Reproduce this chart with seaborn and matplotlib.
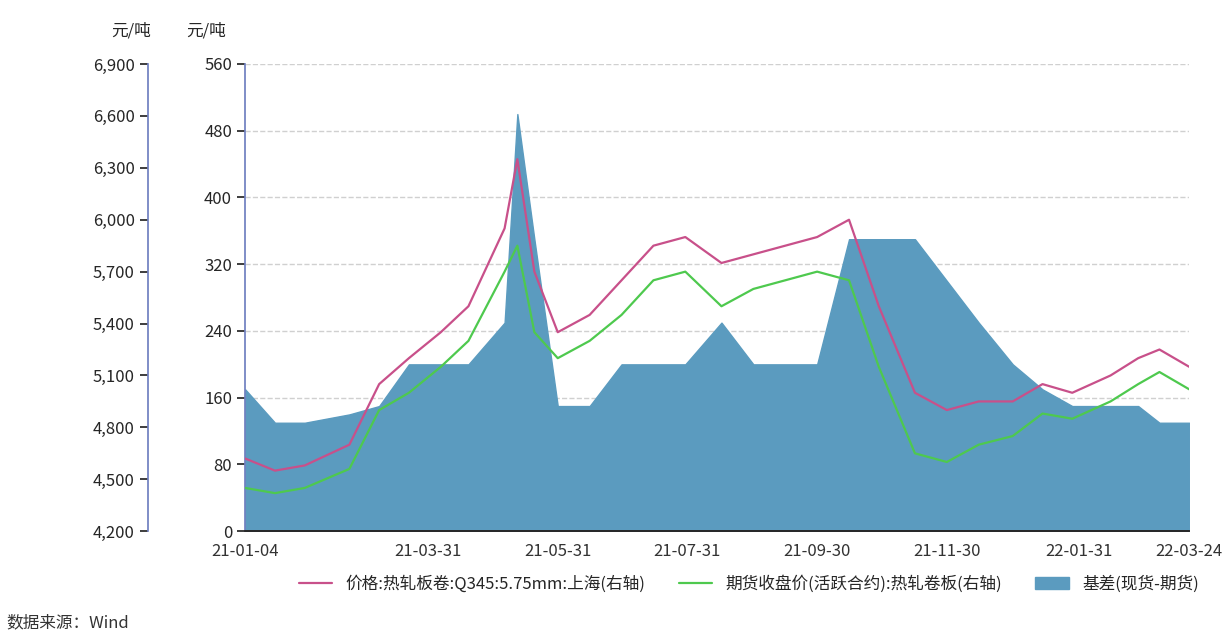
import pandas as pd
import numpy as np
import seaborn as sns
import matplotlib.pyplot as plt
import matplotlib.dates as mdates

sns.set_theme(style="white")
plt.rcParams['font.family'] = ['Noto Sans CJK SC', 'DejaVu Sans']

dates = ["2021-01-04", "2021-01-18", "2021-02-01", "2021-02-22", "2021-03-08", "2021-03-22",
         "2021-04-06", "2021-04-19", "2021-05-06", "2021-05-12", "2021-05-20", "2021-05-31",
         "2021-06-15", "2021-06-30", "2021-07-15", "2021-07-30", "2021-08-16", "2021-08-31",
         "2021-09-15", "2021-09-30", "2021-10-15", "2021-10-29", "2021-11-15", "2021-11-30",
         "2021-12-15", "2021-12-31", "2022-01-14", "2022-01-28", "2022-02-15", "2022-02-28",
         "2022-03-10", "2022-03-24"]
spot = [4620, 4550, 4580, 4700, 5050, 5200, 5350, 5500, 5950, 6350, 5700, 5350,
        5450, 5650, 5850, 5900, 5750, 5800, 5850, 5900, 6000, 5500, 5000, 4900,
        4950, 4950, 5050, 5000, 5100, 5200, 5250, 5150]
futures = [4450, 4420, 4450, 4560, 4900, 5000, 5150, 5300, 5700, 5850, 5350, 5200,
           5300, 5450, 5650, 5700, 5500, 5600, 5650, 5700, 5650, 5150, 4650, 4600,
           4700, 4750, 4880, 4850, 4950, 5050, 5120, 5020]
basis = [170, 130, 130, 140, 150, 200, 200, 200, 250, 500, 350, 150,
         150, 200, 200, 200, 250, 200, 200, 200, 350, 350, 350, 300,
         250, 200, 170, 150, 150, 150, 130, 130]

df = pd.DataFrame({"date": pd.to_datetime(dates), "spot": spot,
                   "futures": futures, "basis": basis})

fig, ax = plt.subplots(figsize=(12.26, 6.4), dpi=100)
fig.subplots_adjust(left=0.2, right=0.97, top=0.9, bottom=0.17)

ax.fill_between(df["date"], 0, df["basis"], color="#5b9bbf", label="基差(现货-期货)")
ax.set_ylim(0, 560)
ax.set_yticks(range(0, 561, 80))
ax.yaxis.grid(True, linestyle="--", color="#d0d0d0")
ax.set_ylabel("")
ax.text(-0.02, 1.06, "元/吨", transform=ax.transAxes, ha="right", fontsize=12)

ax2 = ax.twinx()
sns.lineplot(data=df, x="date", y="spot", ax=ax2, color="#c8508a", linewidth=1.6,
             label="价格:热轧板卷:Q345:5.75mm:上海(右轴)")
sns.lineplot(data=df, x="date", y="futures", ax=ax2, color="#4ec94e", linewidth=1.6,
             label="期货收盘价(活跃合约):热轧卷板(右轴)")
ax2.set_ylim(4200, 6900)
ax2.set_yticks(range(4200, 6901, 300))
ax2.yaxis.set_major_formatter(plt.FuncFormatter(lambda v, p: f"{int(v):,}"))
ax2.yaxis.tick_left()
ax2.yaxis.set_label_position("left")
ax2.spines["left"].set_position(("outward", 70))
ax2.spines["left"].set_color("#7080c0")
ax2.set_ylabel("")
ax2.set_xlabel("")
ax2.text(-0.1, 1.06, "元/吨", transform=ax.transAxes, ha="right", fontsize=12)
for s in ["top", "right"]:
    ax.spines[s].set_visible(False)
    ax2.spines[s].set_visible(False)
ax.spines["left"].set_color("#7080c0")
ax.spines["bottom"].set_color("#333333")

ticks = pd.to_datetime(["2021-01-04", "2021-03-31", "2021-05-31", "2021-07-31",
                        "2021-09-30", "2021-11-30", "2022-01-31", "2022-03-24"])
ax.set_xticks(ticks)
ax.xaxis.set_major_formatter(mdates.DateFormatter("%y-%m-%d"))
ax.tick_params(axis="x", colors="#333333", labelsize=12, length=5)
ax.tick_params(axis="y", labelsize=12, left=True)
ax2.tick_params(axis="y", labelsize=12)
ax.set_xlim(df["date"].min(), df["date"].max())

h1, l1 = ax2.get_legend_handles_labels()
h2, l2 = ax.get_legend_handles_labels()
ax2.get_legend().remove()
fig.legend(h1 + h2, l1 + l2, loc="lower right", ncol=3, frameon=False, fontsize=12,
           bbox_to_anchor=(0.99, 0.05))
fig.text(0.005, 0.02, "数据来源：Wind", fontsize=12, color="#333333")

fig.savefig("out.png", dpi=100)
